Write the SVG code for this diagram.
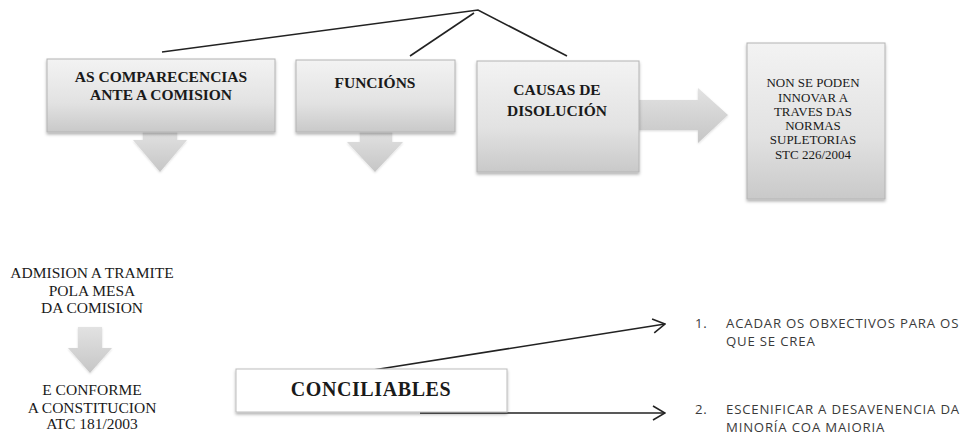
<svg xmlns="http://www.w3.org/2000/svg" width="975" height="436" viewBox="0 0 975 436">
<style>
.box{fill:url(#gBox);stroke:#b4b4b4;stroke-width:1;filter:url(#sh)}
.arr{fill:url(#gArr);filter:url(#sh2)}
.tb{font-family:"Liberation Serif","Times New Roman",serif;font-weight:bold;font-size:15.5px;fill:#1a1a1a;text-anchor:middle}
.tr{font-family:"Liberation Serif","Times New Roman",serif;font-size:13px;fill:#1a1a1a;text-anchor:middle}
.tl{font-family:"Liberation Serif","Times New Roman",serif;font-size:15.5px;fill:#1a1a1a;text-anchor:middle}
.ts{font-family:"Open Sans","Noto Sans",sans-serif;font-size:13.2px;letter-spacing:0.8px;fill:#3a3a3a}
.ln{stroke:#222;stroke-width:1.6;fill:none}
</style>
<defs>
<linearGradient id="gBox" x1="0" y1="0" x2="0" y2="1">
<stop offset="0" stop-color="#f3f3f3"/><stop offset="0.6" stop-color="#e2e2e2"/><stop offset="1" stop-color="#c9c9c9"/>
</linearGradient>
<linearGradient id="gArr" x1="0" y1="0" x2="0" y2="1">
<stop offset="0" stop-color="#e2e2e2"/><stop offset="1" stop-color="#c6c6c6"/>
</linearGradient>
<filter id="sh" x="-10%" y="-10%" width="120%" height="130%">
<feDropShadow dx="0" dy="2" stdDeviation="1.5" flood-color="#000" flood-opacity="0.3"/>
</filter>
<filter id="sh2" x="-10%" y="-10%" width="120%" height="130%">
<feDropShadow dx="0" dy="1" stdDeviation="1" flood-color="#000" flood-opacity="0.15"/>
</filter>
<marker id="chev" viewBox="0 0 14 16" refX="13" refY="8" markerWidth="14" markerHeight="16" markerUnits="userSpaceOnUse" orient="auto">
<path d="M1 1 L13 8 L1 15" fill="none" stroke="#222" stroke-width="1.6"/>
</marker>
</defs>

<g id="connectors">
<path class="ln" d="M162 52 L478 10 L567 56"/>
<path class="ln" d="M410 56 L474 13"/>
<path class="ln" d="M373 370 L665 324" marker-end="url(#chev)"/>
<path class="ln" d="M420 413 L665 413" marker-end="url(#chev)"/>
</g>

<g id="node-comparecencias">
<path class="arr" d="M143 130 H177 V140 H187 L160 172 L133 140 H143 Z"/>
<rect class="box" x="47" y="59" width="228" height="73"/>
<text class="tb" x="161" y="82">AS COMPARECENCIAS</text>
<text class="tb" x="161" y="100">ANTE A COMISION</text>
</g>

<g id="node-funcions">
<path class="arr" d="M360 130 H392 V142 H403 L375 172 L347 142 H360 Z"/>
<rect class="box" x="296" y="60" width="159" height="72"/>
<text class="tb" x="375" y="88">FUNCIÓNS</text>
</g>

<g id="node-causas">
<path class="arr" d="M637 100 H698 V88 L728 115 L698 143 V130 H637 Z"/>
<rect class="box" x="477" y="61" width="162" height="111"/>
<text class="tb" x="557" y="95">CAUSAS DE</text>
<text class="tb" x="557" y="116">DISOLUCIÓN</text>
</g>

<g id="node-supletorias">
<rect class="box" x="747" y="43" width="138" height="156"/>
<text class="tr" x="813" y="87">NON SE PODEN</text>
<text class="tr" x="813" y="102">INNOVAR A</text>
<text class="tr" x="813" y="116">TRAVES DAS</text>
<text class="tr" x="813" y="130">NORMAS</text>
<text class="tr" x="813" y="144">SUPLETORIAS</text>
<text class="tr" x="813" y="159">STC 226/2004</text>
</g>

<g id="node-admision">
<text class="tl" x="92" y="278">ADMISION A TRAMITE</text>
<text class="tl" x="92" y="296">POLA MESA</text>
<text class="tl" x="92" y="313">DA COMISION</text>
<path class="arr" d="M78 327 H102 V348 H112 L90 373 L68 348 H78 Z"/>
<text class="tl" x="92" y="395">E CONFORME</text>
<text class="tl" x="92" y="413">A CONSTITUCION</text>
<text class="tl" x="92" y="429">ATC 181/2003</text>
</g>

<g id="node-conciliables">
<rect x="236" y="369" width="271" height="43" fill="#fff" stroke="#bdbdbd" stroke-width="1" filter="url(#sh)"/>
<text x="371" y="396" font-family="'Liberation Serif','Times New Roman',serif" font-weight="bold" font-size="20" letter-spacing="0.6" fill="#1a1a1a" text-anchor="middle">CONCILIABLES</text>
</g>

<g id="node-item1">
<text class="ts" x="695" y="328">1.</text>
<text class="ts" x="726" y="328">ACADAR OS OBXECTIVOS PARA OS</text>
<text class="ts" x="726" y="346">QUE SE CREA</text>
</g>

<g id="node-item2">
<text class="ts" x="695" y="414">2.</text>
<text class="ts" x="726" y="414">ESCENIFICAR A DESAVENENCIA DA</text>
<text class="ts" x="726" y="432">MINORÍA COA MAIORIA</text>
</g>
</svg>
